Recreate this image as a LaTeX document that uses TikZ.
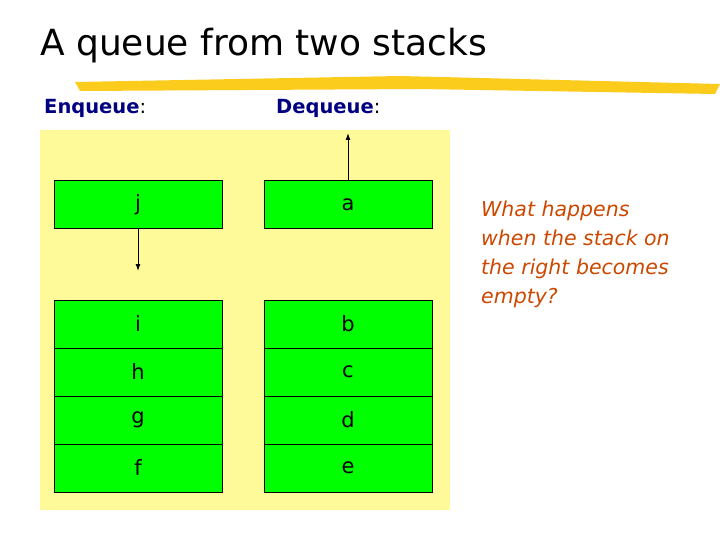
\documentclass[tikz,border=0pt]{standalone}
\usepackage{fontspec}
\usetikzlibrary{arrows.meta}
\setmainfont{DejaVu Sans}
\begin{document}
\begin{tikzpicture}[x=1pt,y=-1pt,
  cell/.style={draw=black,fill=green,line width=0.8pt,minimum width=168pt,minimum height=48pt,inner sep=0pt,font=\fontsize{21}{24}\selectfont},
  lbl/.style={anchor=west,font=\bfseries\fontsize{19.5}{22}\selectfont,text=blue!50!black,inner sep=0pt},
  arr/.style={-{Latex[length=7pt,width=5pt]},line width=1pt}]
\useasboundingbox (0,0) rectangle (720,540);
\node[anchor=west,inner sep=0pt,font=\fontsize{36}{40}\selectfont] (title) at (40,46) {A queue from two stacks};
\fill[yellow!60!orange!90] (75,82) -- (400,76) -- (720,84) -- (715,94) -- (420,89) -- (80,91) -- cycle;
\node[lbl] (enq) at (44,108) {Enqueue\textmd{\color{black}:}};
\node[lbl] (deq) at (276,108) {Dequeue\textmd{\color{black}:}};
\fill[yellow!40] (40,130) rectangle (450,510);
\node[cell] (j) at (138,204.5) {j};
\node[cell] (i) at (138,324) {i};
\node[cell] (h) at (138,372) {h};
\node[cell] (g) at (138,420) {g};
\node[cell] (f) at (138,468) {f};
\node[cell] (a) at (348,204.5) {a};
\node[cell] (b) at (348,324) {b};
\node[cell] (c) at (348,372) {c};
\node[cell] (d) at (348,420) {d};
\node[cell] (e) at (348,468) {e};
\coordinate (jend) at (138,271);
\coordinate (aend) at (348,133);
\draw[arr] (j.south) -- (jend);
\draw[arr] (a.north) -- (aend);
\node[anchor=north west,align=left,inner sep=0pt,text=orange!70!red!80!black,font=\itshape\fontsize{20.5}{29}\selectfont] (q) at (481,201) {What happens\\when the stack on\\the right becomes\\empty?};
\end{tikzpicture}
\end{document}
